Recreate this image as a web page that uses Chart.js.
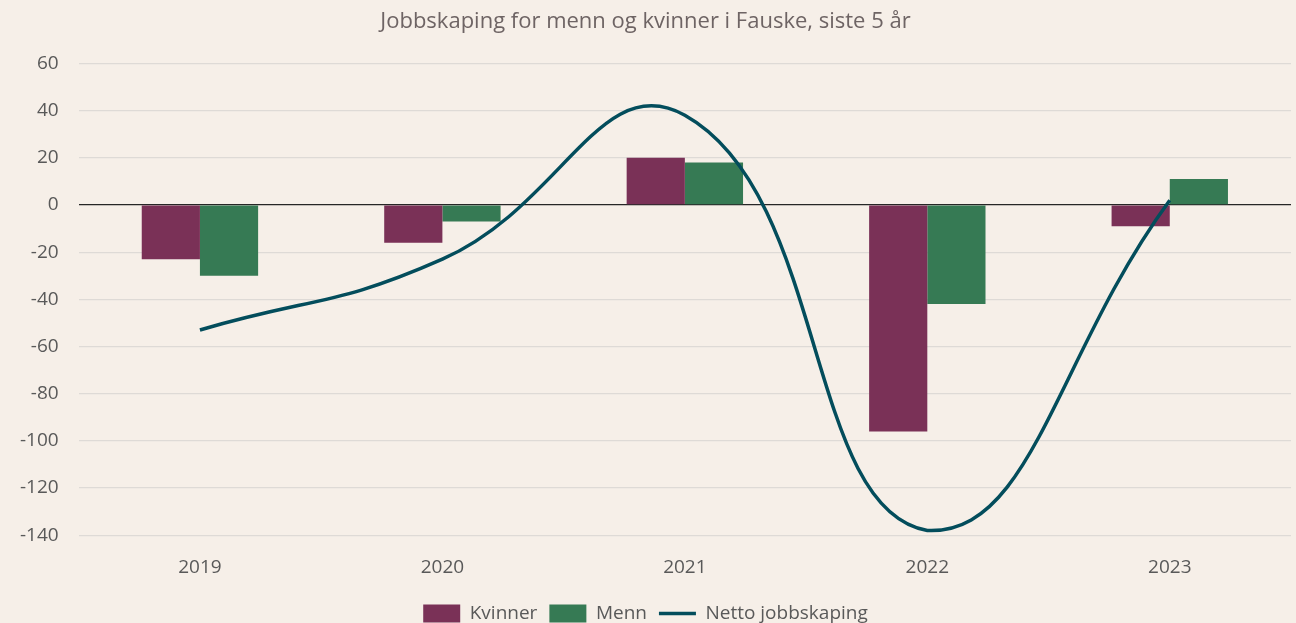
<!DOCTYPE html>
<html>
<head>
<meta charset="utf-8">
<script src="https://cdn.jsdelivr.net/npm/chart.js@4.4.1/dist/chart.umd.min.js"></script>
<style>
  html, body { margin: 0; padding: 0; background: #f6efe8; }
  #wrap { width: 1296px; height: 623px; }
</style>
</head>
<body>
<div id="wrap"><canvas id="chart" width="1296" height="623"></canvas></div>
<script>
// Data
const years = ['2019', '2020', '2021', '2022', '2023'];
const kvinner = [-23, -16, 20, -96, -9];
const menn = [-30, -7, 18, -42, 11];
const netto = [-53, -23, 38, -138, 2];
const yTicks = [60, 40, 20, 0, -20, -40, -60, -80, -100, -120, -140];

const textColor = '#595959';
const fontFamily = "'Open Sans', 'Liberation Sans', sans-serif";

const ctx = document.getElementById('chart').getContext('2d');
new Chart(ctx, {
    data: {
        labels: years,
        datasets: [
            {
                type: 'line',
                label: 'Netto jobbskaping',
                data: netto,
                borderColor: '#034d5c',
                backgroundColor: '#034d5c',
                borderWidth: 3.5,
                pointRadius: 0,
                tension: 0.47,
                fill: false,
                order: 0
            },
            {
                type: 'bar',
                label: 'Kvinner',
                data: kvinner,
                backgroundColor: '#7a3157',
                categoryPercentage: 0.48,
                barPercentage: 1.0,
                order: 1
            },
            {
                type: 'bar',
                label: 'Menn',
                data: menn,
                backgroundColor: '#367a54',
                categoryPercentage: 0.48,
                barPercentage: 1.0,
                order: 1
            }
        ]
    },
    options: {
        responsive: false,
        animation: false,
        layout: { padding: { left: 0, right: 5, top: 0, bottom: -10 } },
        plugins: {
            title: {
                display: true,
                text: 'Jobbskaping for menn og kvinner i Fauske, siste 5 år',
                color: '#6e6464',
                font: { family: fontFamily, size: 22, weight: 'normal' },
                padding: { top: 9, bottom: 28 }
            },
            legend: {
                position: 'bottom',
                labels: {
                    color: textColor,
                    font: { family: fontFamily, size: 19 },
                    usePointStyle: true,
                    pointStyleWidth: 37,
                    boxHeight: 18,
                    padding: 12,
                    generateLabels: (chart) => {
                        const order = [1, 2, 0];
                        return order.map(i => {
                            const ds = chart.data.datasets[i];
                            return {
                                text: ds.label,
                                fillStyle: ds.backgroundColor,
                                strokeStyle: ds.type === 'line' ? ds.borderColor : ds.backgroundColor,
                                lineWidth: ds.type === 'line' ? 3.5 : 0,
                                pointStyle: ds.type === 'line' ? 'line' : 'rect',
                                fontColor: textColor,
                                datasetIndex: i,
                                hidden: false
                            };
                        });
                    }
                }
            },
            tooltip: { enabled: false }
        },
        scales: {
            x: {
                grid: { display: false },
                border: { display: false },
                ticks: {
                    color: textColor,
                    font: { family: fontFamily, size: 19 },
                    padding: 13
                }
            },
            y: {
                min: -140,
                max: 60,
                afterBuildTicks: (axis) => {
                    axis.ticks = yTicks.map(v => ({ value: v }));
                },
                border: { display: false },
                grid: {
                    color: (c) => c.tick && c.tick.value === 0 ? '#262626' : '#dedad6',
                    lineWidth: (c) => c.tick && c.tick.value === 0 ? 1.3 : 1.2,
                    drawTicks: false
                },
                ticks: {
                    color: textColor,
                    font: { family: fontFamily, size: 19 },
                    padding: 20
                }
            }
        }
    }
});
</script>
</body>
</html>
